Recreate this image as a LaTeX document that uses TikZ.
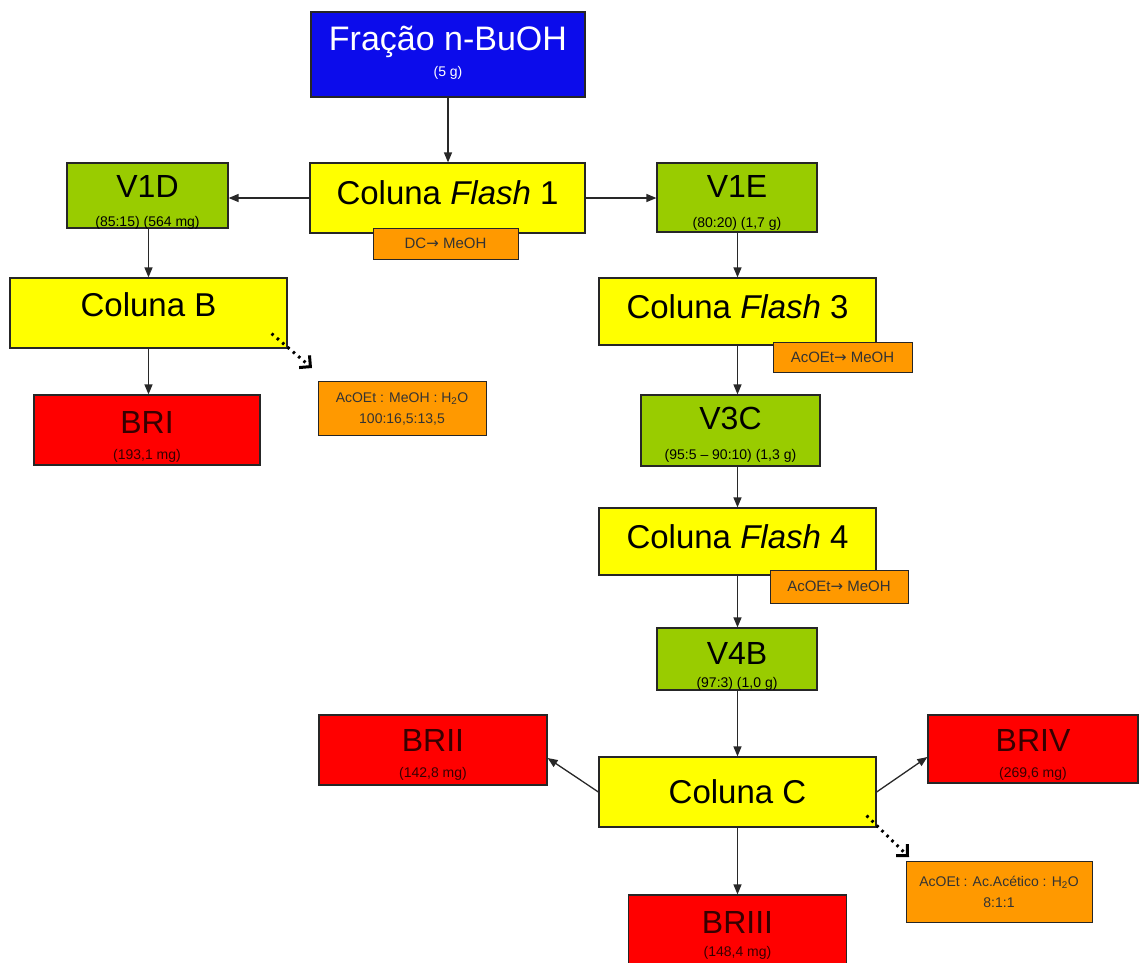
\documentclass[tikz,border=0pt]{standalone}
\usepackage{fontspec}
\setmainfont{Liberation Sans}
\newfontfamily\symfont{DejaVu Sans}
\usetikzlibrary{arrows.meta,calc}

\definecolor{boxblue}{RGB}{12,12,235}
\definecolor{boxyellow}{RGB}{255,255,0}
\definecolor{boxgreen}{RGB}{153,204,0}
\definecolor{boxorange}{RGB}{255,153,0}
\definecolor{boxred}{RGB}{255,0,0}
\definecolor{inkred}{RGB}{55,0,0}
\definecolor{linegray}{RGB}{40,40,40}

\newcommand\rarr{{\symfont →}}

\begin{document}
\begin{tikzpicture}[x=1pt,y=-1pt,
  box/.style={draw=black!85, line width=1.2pt, align=center, inner sep=0pt,
    font=\fontsize{32}{29}\selectfont, text height=23pt},
  bluebox/.style={box, fill=boxblue, text=white, font=\fontsize{34}{31}\selectfont,
    text height=24.5pt},
  yellowbox/.style={box, fill=boxyellow, text=black, font=\fontsize{33}{29}\selectfont,
    text height=23.6pt},
  greenbox/.style={box, fill=boxgreen, text=black},
  redbox/.style={box, fill=boxred, text=inkred},
  solvbox/.style={draw=black!85, fill=boxorange, text=black!80, line width=1pt,
    align=center, inner sep=0pt, font=\fontsize{14}{21}\selectfont},
  gradbox/.style={solvbox, font=\fontsize{15}{18}\selectfont},
  % second, smaller line of a box (placed by its baseline)
  sub/.style={font=\fontsize{14}{16}\selectfont, anchor=base, inner sep=0pt},
  gsub/.style={sub, text=black},
  rsub/.style={sub, text=inkred},
  bsub/.style={sub, text=white},
  arr/.style={draw=linegray, line width=1.3pt, -{Triangle[length=10pt,width=8pt]}},
  dotarr/.style={draw=black, line width=3pt, dash pattern=on 2.5pt off 4.5pt,
    -{Straight Barb[length=8pt,width=16pt]}},
]
\useasboundingbox (0,0) rectangle (1140,962);

% main column: fraction and first column
\node[bluebox, minimum width=274pt, minimum height=85pt, text depth=33pt,
  label={[bsub, yshift=-18.5pt]center:(5 g)}] (top) at (448,54.5) {Fração n-BuOH};
\node[yellowbox, minimum width=275pt, minimum height=70pt, text depth=10pt] (f1)
  at (447.5,198) {Coluna \textit{Flash} 1};
\node[gradbox, minimum width=145pt, minimum height=31pt] (dc) at (445.5,243.5)
  {DC\rarr\ MeOH};

% left branch
\node[greenbox, minimum width=161pt, minimum height=65pt, text depth=20pt,
  label={[gsub, yshift=-27pt]center:(85:15) (564 mg)}] (v1d) at (147.5,195.5) {V1D};
\node[yellowbox, minimum width=277pt, minimum height=70pt, text depth=16pt] (cb)
  at (148.5,313) {Coluna B};
\node[solvbox, minimum width=168pt, minimum height=54pt] (s1) at (402,408.5)
  {AcOEt : MeOH : H\textsubscript{2}O\\100:16,5:13,5};
\node[redbox, minimum width=226pt, minimum height=70pt, text depth=17pt,
  label={[rsub, yshift=-26pt]center:(193,1 mg)}] (bri) at (147,430) {BRI};

% right branch
\node[greenbox, minimum width=160pt, minimum height=69pt, text depth=23pt,
  label={[gsub, yshift=-26.5pt]center:(80:20) (1,7 g)}] (v1e) at (737,197.5) {V1E};
\node[yellowbox, minimum width=277pt, minimum height=67pt, text depth=9pt] (f3)
  at (737.5,311.5) {Coluna \textit{Flash} 3};
\node[gradbox, minimum width=139pt, minimum height=30pt] (s3) at (842.5,357)
  {AcOEt\rarr\ MeOH};
\node[greenbox, minimum width=179pt, minimum height=71pt, text depth=25pt,
  label={[gsub, yshift=-25.5pt]center:(95:5 -- 90:10) (1,3 g)}] (v3c) at (730.5,430.5) {V3C};
\node[yellowbox, minimum width=277pt, minimum height=67pt, text depth=9pt] (f4)
  at (737.5,541.5) {Coluna \textit{Flash} 4};
\node[gradbox, minimum width=138pt, minimum height=33pt] (s4) at (839,586.5)
  {AcOEt\rarr\ MeOH};
\node[greenbox, minimum width=160pt, minimum height=62pt, text depth=13pt,
  label={[gsub, yshift=-25pt]center:(97:3) (1,0 g)}] (v4b) at (737,659) {V4B};
\node[yellowbox, minimum width=277pt, minimum height=70pt, text depth=0pt] (cc)
  at (737.5,792) {Coluna C};
\node[redbox, minimum width=228pt, minimum height=70pt, text depth=20pt,
  label={[rsub, yshift=-24pt]center:(142,8 mg)}] (b2) at (433,750) {BRII};
\node[redbox, minimum width=210pt, minimum height=68pt, text depth=18pt,
  label={[rsub, yshift=-25pt]center:(269,6 mg)}] (b4) at (1033,749) {BRIV};
\node[redbox, minimum width=218pt, minimum height=80pt, text depth=26pt,
  label={[rsub, yshift=-18pt]center:(148,4 mg)}] (b3) at (737.5,935) {BRIII};
\node[solvbox, minimum width=186pt, minimum height=61pt] (s2) at (999,891.5)
  {AcOEt : Ac.Acético : H\textsubscript{2}O\\8:1:1};

% connectors
\draw[arr] (top.south) -- (top.south |- f1.north);
\draw[arr] (f1.west) -- (f1.west -| v1d.east);
\draw[arr] (f1.east) -- (f1.east -| v1e.west);
\draw[arr] (cb.north |- v1d.south) -- (cb.north);
\draw[arr] (cb.south) -- (cb.south |- bri.north);
\draw[arr] (f3.north |- v1e.south) -- (f3.north);
\draw[arr] (f3.south) -- (f3.south |- v3c.north);
\draw[arr] (f4.north |- v3c.south) -- (f4.north);
\draw[arr] (f4.south) -- (f4.south |- v4b.north);
\draw[arr] (cc.north |- v4b.south) -- (cc.north);
\draw[arr] (cc.south) -- (cc.south |- b3.north);
\draw[arr] (cc.west) -- ([yshift=-8pt]b2.east);
\draw[arr] (cc.east) -- ([yshift=-8pt]b4.west);

% eluent arrows
\coordinate (e1) at (312,368);
\coordinate (e2) at (909,857);
\draw[dotarr] ([shift={(-16,-15)}]cb.south east) -- (e1);
\draw[dotarr] ([shift={(-10,-12)}]cc.south east) -- (e2);
\end{tikzpicture}
\end{document}
